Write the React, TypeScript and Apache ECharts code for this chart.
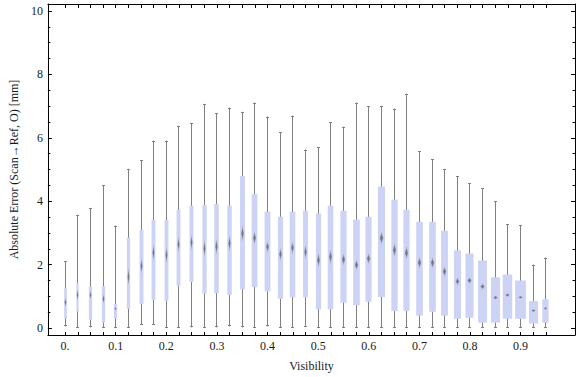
import React, { useEffect, useRef } from "react";
import * as echarts from "echarts";

// Visibility bins (box positions)
const visibility = [
  0, 0.025, 0.05, 0.075, 0.1, 0.125, 0.15, 0.175, 0.2, 0.225,
  0.25, 0.275, 0.3, 0.325, 0.35, 0.375, 0.4, 0.425, 0.45, 0.475,
  0.5, 0.525, 0.55, 0.575, 0.6, 0.625, 0.65, 0.675, 0.7, 0.725,
  0.75, 0.775, 0.8, 0.825, 0.85, 0.875, 0.9, 0.925, 0.95,
];

const whiskerLow = [
  0.05, 0.0, 0.02, 0.0, 0.0, 0.0, 0.11, 0.11, 0.0, 0.0,
  0.02, 0.0, 0.02, 0.05, 0.02, 0.0, 0.05, 0.0, 0.0, 0.03,
  0.0, 0.0, 0.0, 0.0, 0.0, 0.0, 0.0, 0.0, 0.0, 0.0,
  0.0, 0.0, 0.0, 0.0, 0.0, 0.0, 0.0, 0.0, 0.0,
];
const q1 = [
  0.3, 0.52, 0.26, 0.17, 0.3, 0.61, 0.76, 0.89, 0.86, 1.33,
  1.45, 1.08, 1.1, 1.04, 1.22, 1.29, 1.16, 0.92, 0.97, 0.97,
  0.59, 0.59, 0.8, 0.72, 0.83, 0.98, 0.54, 0.54, 0.39, 0.51,
  0.39, 0.29, 0.32, 0.17, 0.17, 0.29, 0.29, 0.14, 0.17,
];
const median = [
  0.81, 1.04, 1.04, 0.92, 0.61, 1.62, 1.96, 2.38, 2.3, 2.64,
  2.7, 2.51, 2.57, 2.67, 2.98, 2.84, 2.56, 2.33, 2.53, 2.4,
  2.14, 2.25, 2.16, 1.99, 2.19, 2.84, 2.46, 2.37, 2.06, 2.06,
  1.78, 1.47, 1.5, 1.31, 0.96, 1.04, 0.97, 0.55, 0.62,
];
const q3 = [
  1.27, 1.41, 1.32, 1.32, 0.76, 2.85, 3.1, 3.42, 3.41, 3.73,
  3.86, 3.88, 3.91, 3.86, 4.8, 4.22, 3.67, 3.51, 3.67, 3.7,
  3.61, 3.86, 3.7, 3.42, 3.51, 4.46, 4.05, 3.73, 3.35, 3.35,
  3.07, 2.45, 2.35, 2.13, 1.6, 1.69, 1.5, 0.85, 0.91,
];
const whiskerHigh = [
  2.1, 3.57, 3.79, 4.51, 3.23, 5.02, 5.3, 5.91, 5.91, 6.38,
  6.46, 7.07, 6.77, 6.95, 6.82, 7.11, 6.67, 6.17, 6.7, 5.63,
  5.7, 6.49, 6.35, 7.11, 6.99, 7.01, 6.92, 7.39, 5.58, 5.32,
  5.02, 4.79, 4.57, 4.41, 4.0, 3.28, 3.25, 2.0, 2.22,
];
// relative sample weight (box width as a fraction of the bin)
const sampleWeight = [
  0.21, 0.17, 0.26, 0.26, 0.26, 0.26, 0.31, 0.31, 0.31, 0.31,
  0.31, 0.33, 0.36, 0.35, 0.39, 0.46, 0.46, 0.41, 0.44, 0.39,
  0.41, 0.44, 0.49, 0.52, 0.49, 0.56, 0.5, 0.49, 0.52, 0.52,
  0.54, 0.56, 0.64, 0.7, 0.72, 0.75, 0.85, 0.72, 0.49,
];
// median confidence notch (full height, mm)
const medianNotch = [
  0.3, 0.38, 0.27, 0.3, 0.12, 0.58, 0.5, 0.54, 0.54, 0.51,
  0.51, 0.55, 0.51, 0.53, 0.55, 0.41, 0.36, 0.42, 0.4, 0.46,
  0.48, 0.49, 0.39, 0.34, 0.36, 0.41, 0.46, 0.43, 0.38, 0.36,
  0.33, 0.25, 0.21, 0.19, 0.13, 0.12, 0.09, 0.07, 0.1,
];

const xLabelValues = [0, 0.1, 0.2, 0.3, 0.4, 0.5, 0.6, 0.7, 0.8, 0.9];
const xTickLabels = ["0.", "0.1", "0.2", "0.3", "0.4", "0.5", "0.6", "0.7", "0.8", "0.9"];
const yMajorTicks = [0, 2, 4, 6, 8, 10];
const yMinorTicks = [
  0.5, 1, 1.5, 2.5, 3, 3.5, 4.5, 5, 5.5, 6.5, 7, 7.5, 8.5, 9, 9.5,
];

const FONT = "Liberation Serif";
const BIN = 0.025;
const X_MIN = -0.034;
const X_MAX = 1.0075;
const Y_MIN = -0.22;
const Y_MAX = 10.22;

export default function App() {
  const ref = useRef<HTMLDivElement>(null);

  useEffect(() => {
    if (!ref.current) return;
    const chart = echarts.init(ref.current, null, { renderer: "svg" });

    const data = visibility.map((v, i) => [
      v,
      whiskerLow[i],
      q1[i],
      median[i],
      q3[i],
      whiskerHigh[i],
      sampleWeight[i],
      medianNotch[i],
    ]);

    const renderItem = (params: any, api: any) => {
      const x = api.value(0);
      const pLow = api.coord([x, api.value(1)]);
      const pQ1 = api.coord([x, api.value(2)]);
      const pMed = api.coord([x, api.value(3)]);
      const pQ3 = api.coord([x, api.value(4)]);
      const pHigh = api.coord([x, api.value(5)]);
      const bandW = api.size([BIN, 0])[0];
      const w = api.value(6) * bandW;
      const notchH = api.size([0, api.value(7)])[1];
      const cx = Math.floor(pMed[0]) + 0.5;
      const capHalf = 1.5;
      const dHalfW = Math.max(1, Math.min(2.3, w * 0.28));
      const dHalfH = Math.max(1.6, notchH / 2);
      const my = pMed[1];
      const whiskerStyle = { stroke: "#808080", lineWidth: 1 };
      const diamond = (hw: number, hh: number) => [
        [cx, my - hh],
        [cx + hw, my],
        [cx, my + hh],
        [cx - hw, my],
      ];
      return {
        type: "group",
        children: [
          {
            type: "line",
            shape: { x1: cx, y1: pLow[1], x2: cx, y2: pHigh[1] },
            style: whiskerStyle,
          },
          {
            type: "line",
            shape: { x1: cx - capHalf, y1: Math.round(pLow[1]) - 0.5, x2: cx + capHalf, y2: Math.round(pLow[1]) - 0.5 },
            style: whiskerStyle,
          },
          {
            type: "line",
            shape: { x1: cx - capHalf, y1: Math.round(pHigh[1]) + 0.5, x2: cx + capHalf, y2: Math.round(pHigh[1]) + 0.5 },
            style: whiskerStyle,
          },
          {
            type: "rect",
            shape: { x: cx - w / 2, y: pQ3[1], width: w, height: pQ1[1] - pQ3[1] },
            style: { fill: "#ccd3f5" },
          },
          {
            type: "polygon",
            shape: { points: diamond(dHalfW, dHalfH) },
            style: { fill: "rgba(110,110,120,0.35)" },
          },
          {
            type: "polygon",
            shape: { points: diamond(dHalfW * 0.7, dHalfH * 0.6) },
            style: { fill: "rgba(100,100,105,0.75)" },
          },
        ],
      };
    };

    const labelStyle = { color: "#1a1a1a", fontFamily: FONT, fontSize: 12 };
    const frameLine = { show: true, onZero: false, lineStyle: { color: "#000", width: 1 } };
    const hiddenLine = { show: false, onZero: false };

    const tickAxisY = (position: string, ticks: number[], length: number, line: boolean) => ({
      type: "value",
      position,
      offset: 0,
      min: Y_MIN,
      max: Y_MAX,
      axisLine: line ? frameLine : hiddenLine,
      axisTick: {
        show: true,
        inside: true,
        length,
        customValues: ticks,
        lineStyle: { color: "#000" },
      },
      axisLabel: { show: false },
      splitLine: { show: false },
    });

    chart.setOption({
      animation: false,
      backgroundColor: "#fff",
      textStyle: { fontFamily: FONT },
      grid: { left: 36, right: 1, top: 4, bottom: 40, containLabel: false },
      xAxis: [
        {
          type: "value",
          position: "bottom",
          offset: 0,
          min: X_MIN,
          max: X_MAX,
          axisLine: frameLine,
          axisTick: {
            show: true,
            inside: true,
            length: 3,
            customValues: visibility,
            lineStyle: { color: "#000" },
          },
          axisLabel: {
            ...labelStyle,
            margin: 5,
            customValues: xLabelValues,
            formatter: (v: number) => {
              const idx = xLabelValues.findIndex((t) => Math.abs(t - v) < 1e-9);
              return idx >= 0 ? xTickLabels[idx] : "";
            },
          },
          splitLine: { show: false },
          name: "Visibility",
          nameLocation: "middle",
          nameGap: 25,
          nameTextStyle: { ...labelStyle },
        },
        {
          type: "value",
          position: "top",
          offset: 0,
          min: X_MIN,
          max: X_MAX,
          axisLine: frameLine,
          axisTick: {
            show: true,
            inside: true,
            length: 4,
            customValues: visibility,
            lineStyle: { color: "#000" },
          },
          axisLabel: { show: false },
          splitLine: { show: false },
        },
      ],
      yAxis: [
        {
          type: "value",
          position: "left",
          offset: 0,
          min: Y_MIN,
          max: Y_MAX,
          axisLine: frameLine,
          axisTick: {
            show: true,
            inside: true,
            length: 4,
            customValues: yMajorTicks,
            lineStyle: { color: "#000" },
          },
          axisLabel: { ...labelStyle, margin: 5, customValues: yMajorTicks },
          splitLine: { show: false },
          name: "Absolute Error (Scan\u2192Ref, O) [mm]",
          nameLocation: "middle",
          nameGap: 25,
          nameRotate: 90,
          nameTextStyle: { ...labelStyle },
        },
        tickAxisY("left", yMinorTicks, 2.5, false),
        tickAxisY("right", yMajorTicks, 4, true),
        tickAxisY("right", yMinorTicks, 2.5, false),
      ],
      series: [
        {
          type: "custom",
          xAxisIndex: 0,
          yAxisIndex: 0,
          renderItem,
          data,
          clip: false,
        },
      ],
    });

    return () => chart.dispose();
  }, []);

  return (
    <div
      ref={ref}
      style={{ position: "fixed", left: 0, top: 0, width: 576, height: 377 }}
    />
  );
}
